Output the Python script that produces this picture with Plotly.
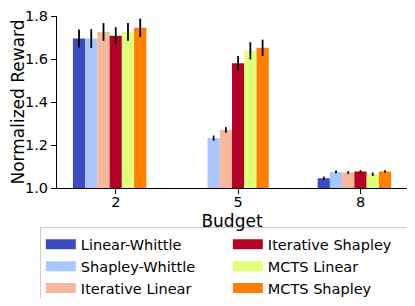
import plotly.graph_objects as go

budgets = [2, 5, 8]
methods = ["Linear-Whittle", "Shapley-Whittle", "Iterative Linear",
           "Iterative Shapley", "MCTS Linear", "MCTS Shapley"]
colors = ["#3b4cc0", "#aac7fd", "#f7b79b", "#b40426", "#e3ff78", "#ff8000"]

values = {
    "Linear-Whittle":    [1.695, None, 1.045],
    "Shapley-Whittle":   [1.695, 1.232, 1.075],
    "Iterative Linear":  [1.726, 1.270, 1.072],
    "Iterative Shapley": [1.708, 1.580, 1.077],
    "MCTS Linear":       [1.726, 1.638, 1.064],
    "MCTS Shapley":      [1.745, 1.652, 1.077],
}
errors = {
    "Linear-Whittle":    [0.042, 0.0, 0.008],
    "Shapley-Whittle":   [0.044, 0.012, 0.006],
    "Iterative Linear":  [0.041, 0.013, 0.006],
    "Iterative Shapley": [0.040, 0.034, 0.006],
    "MCTS Linear":       [0.041, 0.040, 0.008],
    "MCTS Shapley":      [0.043, 0.038, 0.006],
}
legend_rank = [1, 3, 5, 2, 4, 6]

yticks = [1.0, 1.2, 1.4, 1.6, 1.8]

FONT = "DejaVu Sans"
FS = 14.5
bar_w = 0.3

fig = go.Figure()
for i, m in enumerate(methods):
    fig.add_trace(go.Bar(
        x=budgets, y=values[m], name=m, showlegend=False,
        width=bar_w, offset=(i - 3) * bar_w - bar_w / 2,
        marker=dict(color=colors[i], line=dict(width=0)),
        error_y=dict(type="data", array=errors[m], color="black",
                     thickness=1.8, width=0),
    ))
for i, m in enumerate(methods):
    fig.add_trace(go.Scatter(
        x=[None], y=[None], mode="lines", name=m,
        line=dict(color=colors[i], width=10),
        legendrank=legend_rank[i],
    ))

fig.update_layout(
    width=399, height=290,
    margin=dict(l=49, r=0, t=8, b=110, autoexpand=False),
    barmode="overlay",
    plot_bgcolor="white", paper_bgcolor="white",
    font=dict(family=FONT, size=FS, color="black"),
    showlegend=True,
    legend=dict(
        orientation="h", x=-0.049, xanchor="left", y=-0.229, yanchor="top",
        bordercolor="#cccccc", borderwidth=1, bgcolor="white",
        entrywidth=142, entrywidthmode="pixels",
        font=dict(family=FONT, size=FS, color="black"),
        traceorder="normal",
    ),
)
fig.update_xaxes(
    range=[0.56, 9.14], tickmode="array", tickvals=budgets,
    ticktext=[str(b) for b in budgets],
    showline=True, linecolor="black", linewidth=1,
    ticks="outside", ticklen=5, tickcolor="black", showgrid=False,
    zeroline=False, ticklabelstandoff=-4, automargin=False,
    ticklabeloverflow="allow",
    title=dict(text="Budget", standoff=5),
)
fig.update_yaxes(
    range=[1.0, 1.8], tickmode="array", tickvals=yticks,
    ticktext=[f"{t:.1f}" for t in yticks],
    showline=True, linecolor="black", linewidth=1,
    ticks="outside", ticklen=5, tickcolor="black", showgrid=False,
    zeroline=False, automargin=False, ticklabeloverflow="allow",
    title=dict(text="Normalized Reward", standoff=7),
)

fig.write_html("out.html")
